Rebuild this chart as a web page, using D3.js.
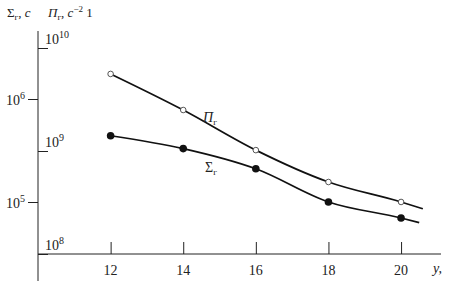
<!DOCTYPE html>
<html>
<head>
<meta charset="utf-8">
<script src="https://cdn.jsdelivr.net/npm/d3@7"></script>
<style>
  body { margin: 0; background: #fff; }
  text { font-family: "Liberation Serif", "Times New Roman", serif; fill: #222; }
</style>
</head>
<body>
<div id="chart"></div>
<script>
// data
const years = [12, 14, 16, 18, 20]
const piValues = [5.6e9, 2.5e9, 1.02e9, 5.0e8, 3.2e8]     // Π_г, right scale (10^8..10^10)
const sigmaValues = [4.4e5, 3.3e5, 2.1e5, 1.0e5, 7.0e4]  // Σ_г, left scale (10^5..10^6)
const piEnd = [20.6, 2.75e8]
const sigmaEnd = [20.5, 6.3e4]
const xTicks = [12, 14, 16, 18, 20]
const leftTicks = [1e5, 1e6]
const rightTicks = [1e8, 1e9, 1e10]

const width = 454, height = 281

const svg = d3.select('#chart').append('svg')
    .attr('width', width)
    .attr('height', height)

// scales
const x = d3.scaleLinear().domain([10, 21.1]).range([38, 441])
const yRight = d3.scaleLog().domain([1e8, 1e10]).range([254, 48])
const yLeft = d3.scaleLog().domain([1e5, 1e6]).range([202, 99])

const ink = '#222'

// axis lines
svg.append('line')
    .attr('x1', 38).attr('x2', 38)
    .attr('y1', 31).attr('y2', height)
    .attr('stroke', ink).attr('stroke-width', 1)
svg.append('line')
    .attr('x1', 38).attr('x2', 441)
    .attr('y1', yRight(1e8)).attr('y2', yRight(1e8))
    .attr('stroke', ink).attr('stroke-width', 1)

// x axis ticks (pointing up)
const xAxis = svg.append('g')
    .attr('transform', `translate(0,${yRight(1e8)})`)
    .call(d3.axisTop(x).tickValues(xTicks).tickSize(12).tickFormat(''))
xAxis.select('.domain').remove()
xAxis.selectAll('line').attr('stroke', ink)
svg.selectAll('.xlab')
    .data(xTicks)
    .enter()
    .append('text')
    .attr('x', d => x(d))
    .attr('y', 275)
    .attr('text-anchor', 'middle')
    .attr('font-size', 14)
    .text(d => d)
svg.append('text')
    .attr('x', 433).attr('y', 273)
    .attr('font-size', 14)
    .attr('font-style', 'italic')
    .text('y,')

// left ticks (10^5, 10^6) pointing outward
const lAxis = svg.append('g')
    .attr('transform', 'translate(38,0)')
    .call(d3.axisLeft(yLeft).tickValues(leftTicks).tickSize(10).tickFormat(''))
lAxis.select('.domain').remove()
lAxis.selectAll('line').attr('stroke', ink)

// right-scale ticks (10^8..10^10) pointing inward
const rAxis = svg.append('g')
    .attr('transform', 'translate(38,0)')
    .call(d3.axisRight(yRight).tickValues(rightTicks).tickSize(10).tickFormat(''))
rAxis.select('.domain').remove()
rAxis.selectAll('line').attr('stroke', ink)

const powLabel = (g, v, px, py) => {
    const t = g.append('text').attr('x', px).attr('y', py).attr('font-size', 14)
    t.append('tspan').text('10')
    t.append('tspan').attr('dy', -6).attr('font-size', 10).text(Math.round(Math.log10(v)))
}
leftTicks.forEach(v => powLabel(svg, v, 6, yLeft(v) + 6))
rightTicks.forEach(v => powLabel(svg, v, 45, yRight(v) - 4))

// header labels
const h1 = svg.append('text').attr('x', 7).attr('y', 17).attr('font-size', 13)
h1.append('tspan').text('Σ')
h1.append('tspan').attr('dy', 3).attr('font-size', 9).text('г')
h1.append('tspan').attr('dy', -3).text(', ')
h1.append('tspan').attr('font-style', 'italic').text('c')

const h2 = svg.append('text').attr('x', 48).attr('y', 17).attr('font-size', 13)
h2.append('tspan').attr('font-style', 'italic').text('Π')
h2.append('tspan').attr('dy', 3).attr('font-size', 9).text('г')
h2.append('tspan').attr('dy', -3).text(', ')
h2.append('tspan').attr('font-style', 'italic').text('c')
h2.append('tspan').attr('dy', -5).attr('font-size', 9).text('−2')
h2.append('tspan').attr('dy', 5).text(' 1')

// curves
const piPts = years.map((d, i) => [x(d), yRight(piValues[i])]).concat([[x(piEnd[0]), yRight(piEnd[1])]])
const sigmaPts = years.map((d, i) => [x(d), yLeft(sigmaValues[i])]).concat([[x(sigmaEnd[0]), yLeft(sigmaEnd[1])]])
const lineGen = d3.line().curve(d3.curveMonotoneX)

svg.append('path')
    .attr('d', lineGen(piPts))
    .attr('fill', 'none').attr('stroke', '#111').attr('stroke-width', 1.7)
svg.append('path')
    .attr('d', lineGen(sigmaPts))
    .attr('fill', 'none').attr('stroke', '#111').attr('stroke-width', 1.7)

// markers
svg.selectAll('.pi')
    .data(years)
    .enter()
    .append('circle')
    .attr('cx', d => x(d))
    .attr('cy', (d, i) => yRight(piValues[i]))
    .attr('r', 2.8)
    .attr('fill', '#fff')
    .attr('stroke', '#444')
    .attr('stroke-width', 0.9)
svg.selectAll('.sigma')
    .data(years)
    .enter()
    .append('circle')
    .attr('cx', d => x(d))
    .attr('cy', (d, i) => yLeft(sigmaValues[i]))
    .attr('r', 3.8)
    .attr('fill', '#111')

// curve labels
const l1 = svg.append('text').attr('x', 203).attr('y', 122).attr('font-size', 14)
l1.append('tspan').attr('font-style', 'italic').text('Π')
l1.append('tspan').attr('dy', 3).attr('font-size', 9).text('г')
const l2 = svg.append('text').attr('x', 205).attr('y', 172).attr('font-size', 14)
l2.append('tspan').text('Σ')
l2.append('tspan').attr('dy', 3).attr('font-size', 9).text('г')
</script>
</body>
</html>
